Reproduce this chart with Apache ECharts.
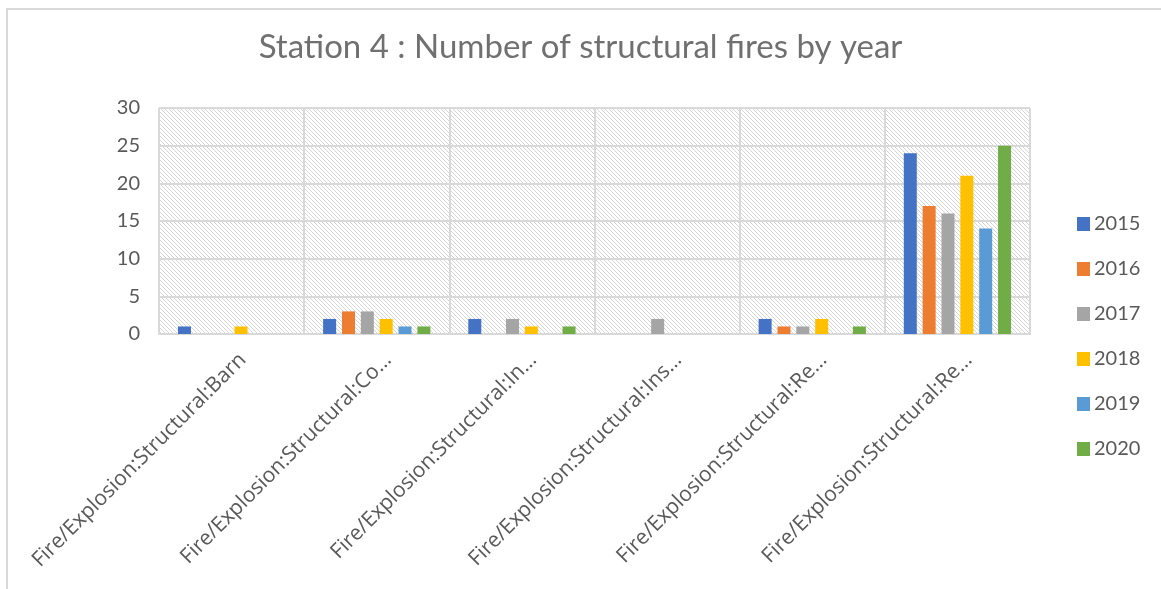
<!DOCTYPE html>
<html>
<head>
<meta charset="utf-8">
<script src="https://cdn.jsdelivr.net/npm/echarts@6/dist/echarts.min.js"></script>
<style>html,body{margin:0;padding:0;background:#fff;}#c{width:1161px;height:589px;}</style>
</head>
<body>
<div id="c"></div>
<script>
var categories = [
  'Fire/Explosion:Structural:Barn',
  'Fire/Explosion:Structural:Co…',
  'Fire/Explosion:Structural:In…',
  'Fire/Explosion:Structural:Ins…',
  'Fire/Explosion:Structural:Re…',
  'Fire/Explosion:Structural:Re…'
];
var years = ['2015', '2016', '2017', '2018', '2019', '2020'];
var v2015 = [1, 2, 2, 0, 2, 24];
var v2016 = [0, 3, 0, 0, 1, 17];
var v2017 = [0, 3, 2, 2, 1, 16];
var v2018 = [1, 2, 1, 0, 2, 21];
var v2019 = [0, 1, 0, 0, 0, 14];
var v2020 = [0, 1, 1, 0, 1, 25];
var yTicks = [0, 5, 10, 15, 20, 25, 30];

var colors = ['#4472C4', '#ED7D31', '#A5A5A5', '#FFC000', '#5B9BD5', '#70AD47'];
var seriesValues = [v2015, v2016, v2017, v2018, v2019, v2020];

// hatch pattern (light downward diagonal)
var pc = document.createElement('canvas');
pc.width = 8; pc.height = 8;
var ctx = pc.getContext('2d');
ctx.fillStyle = '#ffffff';
ctx.fillRect(0, 0, 8, 8);
ctx.fillStyle = '#d6d6d6';
for (var y = 0; y < 8; y++) {
  for (var x = 0; x < 8; x++) {
    if (((x - y) % 4 + 4) % 4 === 0) ctx.fillRect(x, y, 1, 1);
  }
}

var chart = echarts.init(document.getElementById('c'), null, {renderer: 'canvas'});
var font = 'Lato, "Open Sans", sans-serif';
var labelFont = '"Open Sans", "Noto Sans", sans-serif';
var series = years.map(function (yr, i) {
  return {
    name: yr,
    type: 'bar',
    data: seriesValues[i],
    barWidth: 13,
    barGap: '45%',
    itemStyle: {color: colors[i]}
  };
});

chart.setOption({
  animation: false,
  backgroundColor: '#ffffff',
  color: colors,
  title: {
    text: 'Station 4 : Number of structural fires by year',
    left: 'center',
    top: 31,
    textStyle: {fontFamily: font, fontSize: 33, fontWeight: 'normal', color: '#707070'},
    padding: 0
  },
  graphic: [{
    type: 'rect',
    shape: {x: 7, y: 9, width: 1300, height: 800},
    style: {fill: 'none', stroke: '#d9d9d9', lineWidth: 2},
    silent: true
  }],
  legend: {
    data: years,
    orient: 'vertical',
    left: 1072,
    top: 209,
    itemWidth: 13,
    itemHeight: 14,
    itemGap: 25,
    icon: 'rect',
    textStyle: {fontFamily: font, fontSize: 20, color: '#595959', lineHeight: 20, padding: [0, 0, 0, -1]}
  },
  grid: {
    left: 159,
    right: 131,
    top: 108,
    bottom: 255,
    show: true,
    backgroundColor: {image: pc, repeat: 'repeat'},
    borderWidth: 0
  },
  xAxis: {
    type: 'category',
    data: categories,
    axisLine: {show: true, lineStyle: {color: '#d9d9d9', width: 2}},
    axisTick: {show: false},
    splitLine: {show: true, lineStyle: {color: '#d9d9d9', width: 2}},
    axisLabel: {
      rotate: 45,
      interval: 0,
      margin: 34,
      padding: [0, -16, 0, 0],
      fontFamily: labelFont,
      fontSize: 21,
      color: '#595959'
    }
  },
  yAxis: {
    type: 'value',
    min: yTicks[0],
    max: yTicks[yTicks.length - 1],
    interval: 5,
    axisLine: {show: false},
    axisTick: {show: false},
    splitLine: {show: true, lineStyle: {color: '#d9d9d9', width: 2}},
    axisLabel: {fontFamily: font, fontSize: 20, color: '#595959', margin: 19}
  },
  series: series
});
</script>
</body>
</html>
